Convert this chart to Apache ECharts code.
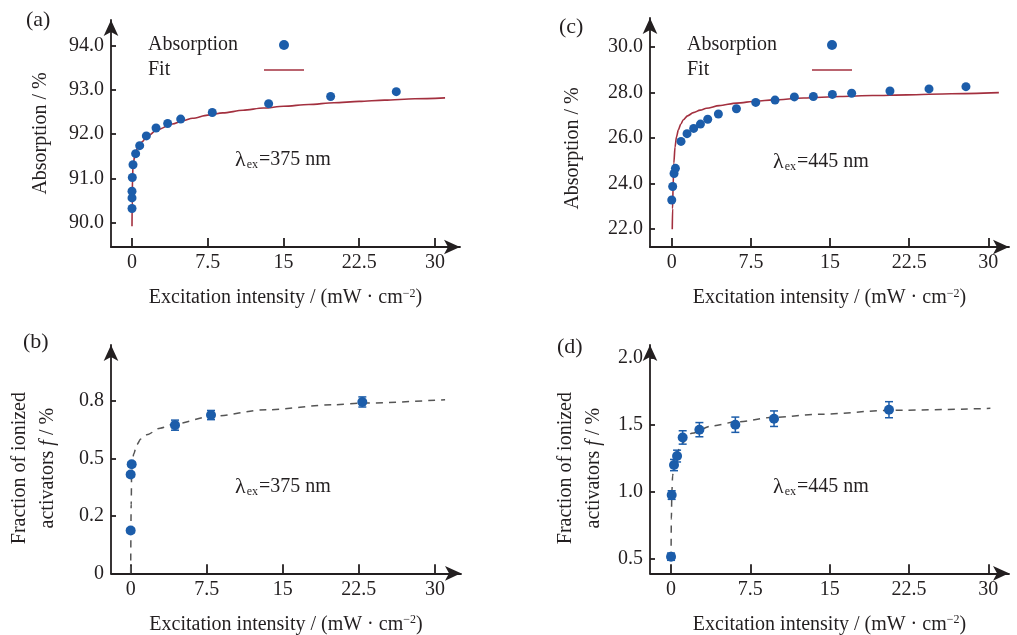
<!DOCTYPE html>
<html>
<head>
<meta charset="utf-8">
<script src="https://cdn.jsdelivr.net/npm/echarts@6/dist/echarts.min.js"></script>
<style>html,body{margin:0;padding:0;background:#fff}#c{width:1017px;height:635px}</style>
</head>
<body>
<div id="c"></div>
<script>
// ---------- data ----------
const xTicks = [0, 7.5, 15, 22.5, 30];
const xTickLabels = ['0', '7.5', '15', '22.5', '30'];

// (a) absorption at 375 nm
const absAX = [0, 0, 0, 0.03, 0.1, 0.36, 0.76, 1.42, 2.38, 3.53, 4.82, 7.95, 13.53, 19.67, 26.17];
const absAY = [90.32, 90.56, 90.71, 91.02, 91.31, 91.56, 91.74, 91.96, 92.14, 92.24, 92.34, 92.49, 92.69, 92.85, 92.96];
const fitAX = [0, 0.02, 0.05, 0.1, 0.3, 0.6, 1.0, 1.5, 2.5, 4, 5, 6, 7.5, 9, 11, 13, 15, 17.5, 20, 22.5, 25, 28, 31];
const fitAY = [89.92, 90.5, 91.0, 91.3, 91.55, 91.72, 91.83, 91.95, 92.1, 92.23, 92.3, 92.36, 92.43, 92.48, 92.54, 92.59, 92.63, 92.67, 92.71, 92.74, 92.77, 92.8, 92.82];
const yTicksA = [90, 91, 92, 93, 94];
const yTickLabelsA = ['90.0', '91.0', '92.0', '93.0', '94.0'];

// (c) absorption at 445 nm
const absCX = [0, 0.09, 0.22, 0.35, 0.88, 1.45, 2.08, 2.72, 3.41, 4.42, 6.13, 7.96, 9.79, 11.62, 13.42, 15.22, 17.05, 20.68, 24.38, 27.88];
const absCY = [23.28, 23.87, 24.44, 24.67, 25.85, 26.19, 26.42, 26.61, 26.82, 27.05, 27.28, 27.56, 27.66, 27.80, 27.82, 27.91, 27.96, 28.06, 28.15, 28.25];
const fitCX = [0.05, 0.08, 0.13, 0.2, 0.31, 0.45, 0.63, 0.85, 1.1, 1.5, 2.05, 2.7, 3.3, 4.5, 6.16, 8, 9.6, 12.5, 15.95, 19, 22.3, 26.5, 31.0];
const fitCY = [22.0, 22.9, 23.9, 24.9, 25.6, 26.05, 26.36, 26.6, 26.8, 26.97, 27.11, 27.22, 27.3, 27.42, 27.53, 27.61, 27.67, 27.75, 27.82, 27.86, 27.89, 27.94, 27.99];
const yTicksC = [22, 24, 26, 28, 30];
const yTickLabelsC = ['22.0', '24.0', '26.0', '28.0', '30.0'];

// (b) fraction of ionized activators, 375 nm
const fracBX = [0, 0, 0.1, 4.37, 7.92, 22.84];
const fracBY = [0.186, 0.430, 0.475, 0.645, 0.689, 0.746];
const errB = [0.01, 0.01, 0.01, 0.022, 0.02, 0.022];
const fitBX = [0, 0.05, 0.1, 0.3, 0.6, 1.0, 1.58, 2.9, 4.37, 7.92, 13.4, 20, 22.8, 31];
const fitBY = [0.0, 0.3, 0.45, 0.52, 0.56, 0.585, 0.603, 0.632, 0.651, 0.683, 0.712, 0.734, 0.741, 0.756];
const yTicksB = [0, 0.25, 0.5, 0.75];
const yTickLabelsB = ['0', '0.2', '0.5', '0.8'];

// (d) fraction of ionized activators, 445 nm
const fracDX = [0, 0.06, 0.28, 0.57, 1.10, 2.68, 6.08, 9.74, 20.61];
const fracDY = [0.515, 0.975, 1.199, 1.266, 1.405, 1.463, 1.50, 1.545, 1.612];
const errD = [0.027, 0.032, 0.042, 0.044, 0.05, 0.053, 0.057, 0.058, 0.06];
const fitDX = [0.0, 0.03, 0.08, 0.15, 0.3, 0.55, 1.0, 1.96, 3.8, 6.1, 9.7, 14.1, 20.6, 30.2];
const fitDY = [0.5, 0.8, 1.0, 1.12, 1.22, 1.29, 1.36, 1.436, 1.49, 1.52, 1.555, 1.578, 1.607, 1.622];
const yTicksD = [0.5, 1.0, 1.5, 2.0];
const yTickLabelsD = ['0.5', '1.0', '1.5', '2.0'];

// ---------- style ----------
const SERIF = '"Liberation Serif", "Times New Roman", serif';
const INK = '#231f20';
const BLUE = '#1c5daa';
const RED = '#a3303f';
const GRAY = '#555555';

const zip = (xs, ys) => xs.map((x, i) => [x, ys[i]]);
const zip3 = (xs, ys, es) => xs.map((x, i) => [x, ys[i], es[i]]);

const xName = 'Excitation intensity / (mW · cm{s|−2})';

function makeX(gridIndex, min, max, gap) {
  return {
    type: 'value', gridIndex, min, max,
    name: xName, nameLocation: 'middle', nameGap: gap,
    nameTextStyle: {
      fontFamily: SERIF, fontSize: 20, color: INK,
      rich: { s: { fontFamily: SERIF, fontSize: 12, color: INK, verticalAlign: 'top', lineHeight: 12 } }
    },
    axisLine: { show: true, onZero: false, symbol: ['none', 'arrow'], symbolSize: [11, 16], lineStyle: { color: INK, width: 1.8 } },
    axisTick: { show: true, inside: true, length: 9, customValues: xTicks, lineStyle: { color: INK, width: 1.8 } },
    axisLabel: {
      customValues: xTicks, margin: 6, fontFamily: SERIF, fontSize: 20, color: INK,
      formatter: v => xTickLabels[xTicks.indexOf(v)]
    },
    splitLine: { show: false }
  };
}

function makeY(gridIndex, min, max, ticks, labels, name, gap, pad) {
  return {
    type: 'value', gridIndex, min, max,
    name, nameLocation: 'middle', nameGap: gap,
    nameTextStyle: {
      fontFamily: SERIF, fontSize: 20, color: INK, lineHeight: 28, padding: pad,
      rich: { i: { fontFamily: SERIF, fontSize: 20, color: INK, fontStyle: 'italic', lineHeight: 28 } }
    },
    axisLine: { show: true, onZero: false, symbol: ['none', 'arrow'], symbolSize: [11, 16], lineStyle: { color: INK, width: 1.8 } },
    axisTick: { show: true, inside: true, length: 5, customValues: ticks, lineStyle: { color: INK, width: 1.8 } },
    axisLabel: {
      customValues: ticks, margin: 7, fontFamily: SERIF, fontSize: 20, color: INK,
      formatter: v => labels[ticks.indexOf(v)]
    },
    splitLine: { show: false }
  };
}

function errorSeries(xi, data) {
  return {
    type: 'custom', xAxisIndex: xi, yAxisIndex: xi, z: 2, silent: true,
    data,
    renderItem: (params, api) => {
      const x = api.value(0), y = api.value(1), e = api.value(2);
      const t = api.coord([x, y + e]);
      const b = api.coord([x, y - e]);
      const hw = 4;
      const st = { stroke: BLUE, lineWidth: 1.5 };
      return {
        type: 'group',
        children: [
          { type: 'line', shape: { x1: t[0], y1: t[1], x2: b[0], y2: b[1] }, style: st },
          { type: 'line', shape: { x1: t[0] - hw, y1: t[1], x2: t[0] + hw, y2: t[1] }, style: st },
          { type: 'line', shape: { x1: b[0] - hw, y1: b[1], x2: b[0] + hw, y2: b[1] }, style: st }
        ]
      };
    }
  };
}

function legendFor(left, top, w) {
  return {
    left, top, orient: 'vertical', align: 'right', itemWidth: 40, itemHeight: 10, itemGap: 5,
    padding: 0, selectedMode: false,
    data: [
      { name: 'Absorption', icon: 'circle' },
      { name: 'Fit', icon: 'path://M0,0L40,0L40,1.6L0,1.6Z' }
    ],
    formatter: '{t|{name}}',
    textStyle: { rich: { t: { width: w, align: 'left', fontFamily: SERIF, fontSize: 20, color: INK, lineHeight: 20 } } }
  };
}

function lambda(left, top, nm) {
  return {
    type: 'text', left, top, silent: true,
    style: {
      text: '{l|λ}{s|ex}{n|=' + nm + ' nm}',
      rich: {
        l: { fontFamily: SERIF, fontSize: 22, fill: INK, lineHeight: 22 },
        s: { fontFamily: SERIF, fontSize: 12, fill: INK, verticalAlign: 'bottom', lineHeight: 12, padding: [0, 1, 0, 1] },
        n: { fontFamily: SERIF, fontSize: 20, fill: INK, lineHeight: 22 }
      }
    }
  };
}

function panelLabel(left, top, txt) {
  return { type: 'text', left, top, silent: true, style: { text: txt, fontFamily: SERIF, fontSize: 22, fill: INK } };
}

const option = {
  animation: false,
  backgroundColor: '#ffffff',
  textStyle: { fontFamily: SERIF },
  grid: [
    { left: 111, top: 20, width: 349, height: 227, outerBoundsMode: 'none', containLabel: false },      // (a)
    { left: 111, top: 345, width: 350, height: 228.3, outerBoundsMode: 'none', containLabel: false },   // (b)
    { left: 650, top: 18, width: 359, height: 229, outerBoundsMode: 'none', containLabel: false },      // (c)
    { left: 650, top: 345, width: 359, height: 228.3, outerBoundsMode: 'none', containLabel: false }    // (d)
  ],
  xAxis: [
    makeX(0, -2.08, 32.48, 41),
    makeX(1, -1.94, 32.57, 41),
    makeX(2, -2.06, 31.96, 41),
    makeX(3, -1.99, 31.96, 41)
  ],
  yAxis: [
    makeY(0, 89.45, 94.58, yTicksA, yTickLabelsA, 'Absorption / %', 56, [0, 0, 0, 0]),
    makeY(1, 0, 0.994, yTicksB, yTickLabelsB, 'Fraction of ionized\nactivators {i|f} / %', 49, [0, 18, 0, 0]),
    makeY(2, 21.22, 31.26, yTicksC, yTickLabelsC, 'Absorption / %', 63, [0, 32, 0, 0]),
    makeY(3, 0.391, 2.095, yTicksD, yTickLabelsD, 'Fraction of ionized\nactivators {i|f} / %', 42, [0, 18, 0, 0])
  ],
  legend: [legendFor(148, 35, 111), legendFor(687, 35, 120)],
  graphic: [
    panelLabel(26, 9, '(a)'),
    panelLabel(23, 331, '(b)'),
    panelLabel(559, 16, '(c)'),
    panelLabel(557, 336, '(d)'),
    lambda(235, 149, '375'),
    lambda(235, 476, '375'),
    lambda(773, 151, '445'),
    lambda(773, 476, '445')
  ],
  series: [
    { name: 'Fit', type: 'line', xAxisIndex: 0, yAxisIndex: 0, data: zip(fitAX, fitAY), symbol: 'none', smooth: 0.3, smoothMonotone: 'x', lineStyle: { color: RED, width: 1.6 }, itemStyle: { color: RED }, z: 2 },
    { name: 'Absorption', type: 'scatter', xAxisIndex: 0, yAxisIndex: 0, data: zip(absAX, absAY), symbolSize: 9, itemStyle: { color: BLUE, opacity: 1 }, z: 3 },
    { name: 'Fit', type: 'line', xAxisIndex: 2, yAxisIndex: 2, data: zip(fitCX, fitCY), symbol: 'none', smooth: 0.3, smoothMonotone: 'x', lineStyle: { color: RED, width: 1.6 }, itemStyle: { color: RED }, z: 2 },
    { name: 'Absorption', type: 'scatter', xAxisIndex: 2, yAxisIndex: 2, data: zip(absCX, absCY), symbolSize: 9, itemStyle: { color: BLUE, opacity: 1 }, z: 3 },
    { name: 'fit375', type: 'line', xAxisIndex: 1, yAxisIndex: 1, data: zip(fitBX, fitBY), symbol: 'none', smooth: 0.3, smoothMonotone: 'x', lineStyle: { color: GRAY, width: 1.5, type: [7, 6] }, z: 1 },
    errorSeries(1, zip3(fracBX, fracBY, errB)),
    { name: 'frac375', type: 'scatter', xAxisIndex: 1, yAxisIndex: 1, data: zip(fracBX, fracBY), symbolSize: 10, itemStyle: { color: BLUE, opacity: 1 }, z: 3 },
    { name: 'fit445', type: 'line', xAxisIndex: 3, yAxisIndex: 3, data: zip(fitDX, fitDY), symbol: 'none', smooth: 0.3, smoothMonotone: 'x', lineStyle: { color: GRAY, width: 1.5, type: [7, 6] }, z: 1 },
    errorSeries(3, zip3(fracDX, fracDY, errD)),
    { name: 'frac445', type: 'scatter', xAxisIndex: 3, yAxisIndex: 3, data: zip(fracDX, fracDY), symbolSize: 10, itemStyle: { color: BLUE, opacity: 1 }, z: 3 }
  ]
};

const chart = echarts.init(document.getElementById('c'), null, { renderer: 'canvas' });
chart.setOption(option);
</script>
</body>
</html>
